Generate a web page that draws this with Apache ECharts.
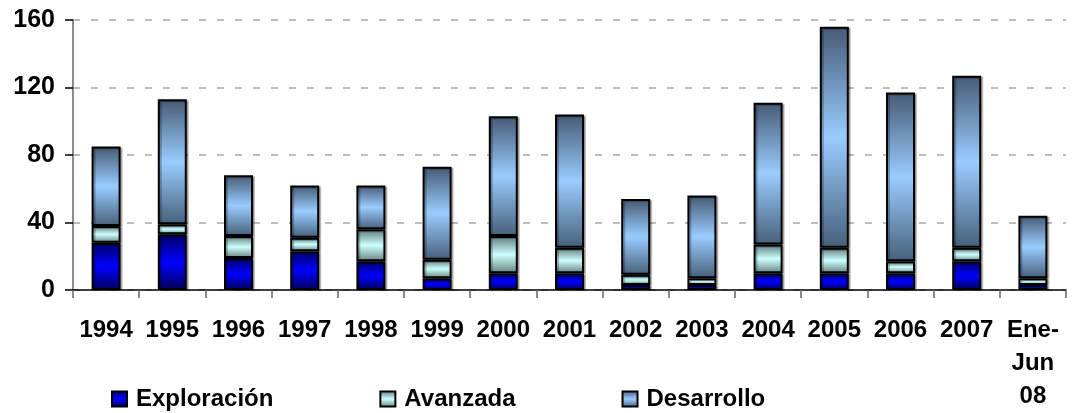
<!DOCTYPE html>
<html>
<head>
<meta charset="utf-8">
<script src="https://cdn.jsdelivr.net/npm/echarts@6/dist/echarts.min.js"></script>
<style>
  html, body { margin: 0; padding: 0; background: #fff; }
  #chart { width: 1077px; height: 413px; }
</style>
</head>
<body>
<div id="chart"></div>
<script>
// datos
const categorias = ['1994', '1995', '1996', '1997', '1998', '1999', '2000', '2001', '2002', '2003', '2004', '2005', '2006', '2007', 'Ene-\nJun\n08']
const exploracion = [28, 33, 19, 23, 17, 7, 10, 10, 3, 3, 10, 10, 10, 17, 3]
const avanzada = [10, 6, 13, 8, 19, 11, 22, 15, 6, 4, 17, 15, 7, 8, 4]
const desarrollo = [47, 74, 36, 31, 26, 55, 71, 79, 45, 49, 84, 131, 100, 102, 37]
const ticksY = [0, 40, 80, 120, 160]

// degradado vertical oscuro - claro - oscuro
function degradado(borde, centro, abajo) {
  return new echarts.graphic.LinearGradient(0, 0, 0, 1, [
    { offset: 0, color: borde },
    { offset: 0.5, color: centro },
    { offset: 1, color: abajo }
  ])
}

const fuente = 'Liberation Sans, Arial, sans-serif'

const chart = echarts.init(document.getElementById('chart'))

function serie(nombre, datos, color) {
  return {
    name: nombre,
    type: 'bar',
    stack: 'total',
    barWidth: 29,
    data: datos,
    itemStyle: {
      color: color,
      borderColor: '#000',
      borderWidth: 2,
      shadowColor: 'rgba(0,0,0,0.25)',
      shadowOffsetX: 2,
      shadowOffsetY: 1
    }
  }
}

chart.setOption({
  animation: false,
  grid: { left: 73, right: 11, top: 20, bottom: 118, containLabel: false },
  legend: {
    left: 106,
    top: 382,
    itemWidth: 15,
    itemHeight: 15,
    itemGap: 106,
    icon: 'rect',
    textStyle: { fontFamily: fuente, fontSize: 24, fontWeight: 'bold', color: '#000', padding: [0, 0, 0, 4] },
    data: ['Exploración', 'Avanzada', 'Desarrollo']
  },
  xAxis: {
    type: 'category',
    data: categorias,
    axisLine: { lineStyle: { color: '#000', width: 1.5 } },
    axisTick: { show: true, length: 8, lineStyle: { color: '#666', width: 1.5 } },
    axisLabel: {
      interval: 0,
      margin: 24,
      fontFamily: fuente,
      fontSize: 24,
      fontWeight: 'bold',
      color: '#000',
      lineHeight: 33
    }
  },
  yAxis: {
    type: 'value',
    min: ticksY[0],
    max: ticksY[ticksY.length - 1],
    interval: 40,
    axisLine: { show: true, lineStyle: { color: '#666', width: 1.5 } },
    axisTick: { show: true, length: 8, lineStyle: { color: '#000', width: 1.5 } },
    axisLabel: {
      margin: 18,
      fontFamily: fuente,
      fontSize: 25,
      fontWeight: 'bold',
      color: '#000'
    },
    splitLine: { lineStyle: { color: '#a6a6a6', width: 1.5, type: [7, 11] } }
  },
  series: [
    serie('Exploración', exploracion, degradado('#000066', '#0000ff', '#00005a')),
    serie('Avanzada', avanzada, degradado('#5c7a78', '#ccffff', '#66827f')),
    serie('Desarrollo', desarrollo, degradado('#465a74', '#99ccff', '#47607a'))
  ]
})
</script>
</body>
</html>
